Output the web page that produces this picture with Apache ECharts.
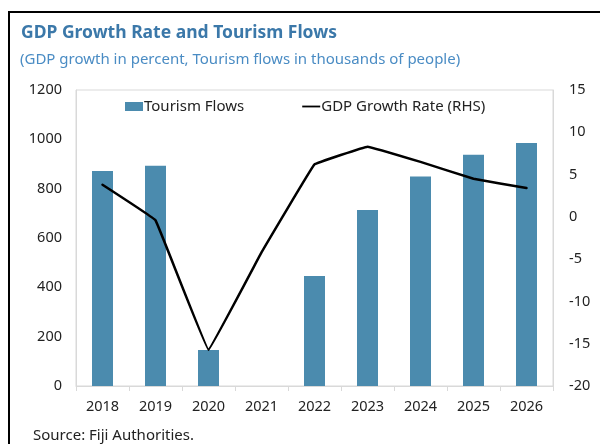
<!DOCTYPE html>
<html>
<head>
<meta charset="utf-8">
<script src="https://cdn.jsdelivr.net/npm/echarts@6/dist/echarts.min.js"></script>
<style>
  html, body { margin: 0; padding: 0; background: #fff; }
  #chart { width: 600px; height: 444px; }
</style>
</head>
<body>
<div id="chart"></div>
<script>
// Years on the category axis
const years = ['2018', '2019', '2020', '2021', '2022', '2023', '2024', '2025', '2026'];
// Tourism arrivals, thousands of people (no figure for 2021)
const tourismFlows = [872, 893, 146, null, 446, 714, 849, 937, 985];
// Real GDP growth, percent (right-hand scale)
const gdpGrowth = [3.8, -0.4, -15.7, -4.2, 6.2, 8.3, 6.5, 4.5, 3.4];

const FONT = '"Noto Sans", "DejaVu Sans", sans-serif';
const chart = echarts.init(document.getElementById('chart'), null, { renderer: 'canvas' });

chart.setOption({
  animation: false,
  backgroundColor: '#fff',
  textStyle: { fontFamily: FONT },
  title: [
    {
      text: 'GDP Growth Rate and Tourism Flows',
      left: 16, top: 19,
      textStyle: { fontFamily: FONT, fontSize: 17.5, fontWeight: 'bold', color: '#3B78A9' }
    },
    {
      text: '(GDP growth in percent, Tourism flows in thousands of people)',
      left: 15, top: 47,
      textStyle: { fontFamily: FONT, fontSize: 15, fontWeight: 'normal', color: '#4A8CC4' }
    },
    {
      text: 'Source: Fiji Authorities.',
      left: 28, top: 423,
      textStyle: { fontFamily: FONT, fontSize: 15, fontWeight: 'normal', color: '#222' }
    }
  ],
  graphic: [
    {
      type: 'polyline',
      shape: { points: [[9, 450], [9, 12], [600, 12]] },
      style: { stroke: '#000', lineWidth: 2, fill: null }
    }
  ],
  legend: {
    top: 94, left: 120,
    itemGap: 58,
    itemWidth: 18, itemHeight: 9,
    textStyle: { fontFamily: FONT, fontSize: 15, color: '#222', padding: [0, 0, 0, -4] },
    data: [
      { name: 'Tourism Flows', icon: 'rect' },
      { name: 'GDP Growth Rate (RHS)', icon: 'path://M0,0 L20,0 L20,2 L0,2 Z' }
    ]
  },
  grid: {
    left: 76, right: 47, top: 90, bottom: 58,
    show: true, borderColor: '#D9D9D9', borderWidth: 1
  },
  xAxis: {
    type: 'category',
    data: years,
    axisLine: { lineStyle: { color: '#D9D9D9' } },
    axisTick: { show: true, alignWithLabel: false, length: 5, lineStyle: { color: '#D9D9D9' } },
    axisLabel: { fontFamily: FONT, fontSize: 14.5, color: '#222', margin: 13 }
  },
  yAxis: [
    {
      type: 'value', min: 0, max: 1200, interval: 200,
      axisLine: { show: true, lineStyle: { color: '#D9D9D9' } },
      axisTick: { show: false },
      splitLine: { show: false },
      axisLabel: { fontFamily: FONT, fontSize: 14.5, color: '#222', margin: 14, formatter: v => String(v) }
    },
    {
      type: 'value', min: -20, max: 15, interval: 5,
      axisLine: { show: true, lineStyle: { color: '#D9D9D9' } },
      axisTick: { show: false },
      splitLine: { show: false },
      axisLabel: { fontFamily: FONT, fontSize: 14.5, color: '#222', margin: 16, formatter: v => String(v) }
    }
  ],
  series: [
    {
      name: 'Tourism Flows',
      type: 'bar',
      data: tourismFlows,
      barWidth: 21,
      itemStyle: { color: '#4B8BAE' }
    },
    {
      name: 'GDP Growth Rate (RHS)',
      type: 'line',
      yAxisIndex: 1,
      data: gdpGrowth,
      smooth: 0.04,
      symbol: 'none',
      lineStyle: { color: '#000', width: 2.5, join: 'round', cap: 'round' },
      itemStyle: { color: '#000' }
    }
  ]
});
</script>
</body>
</html>
